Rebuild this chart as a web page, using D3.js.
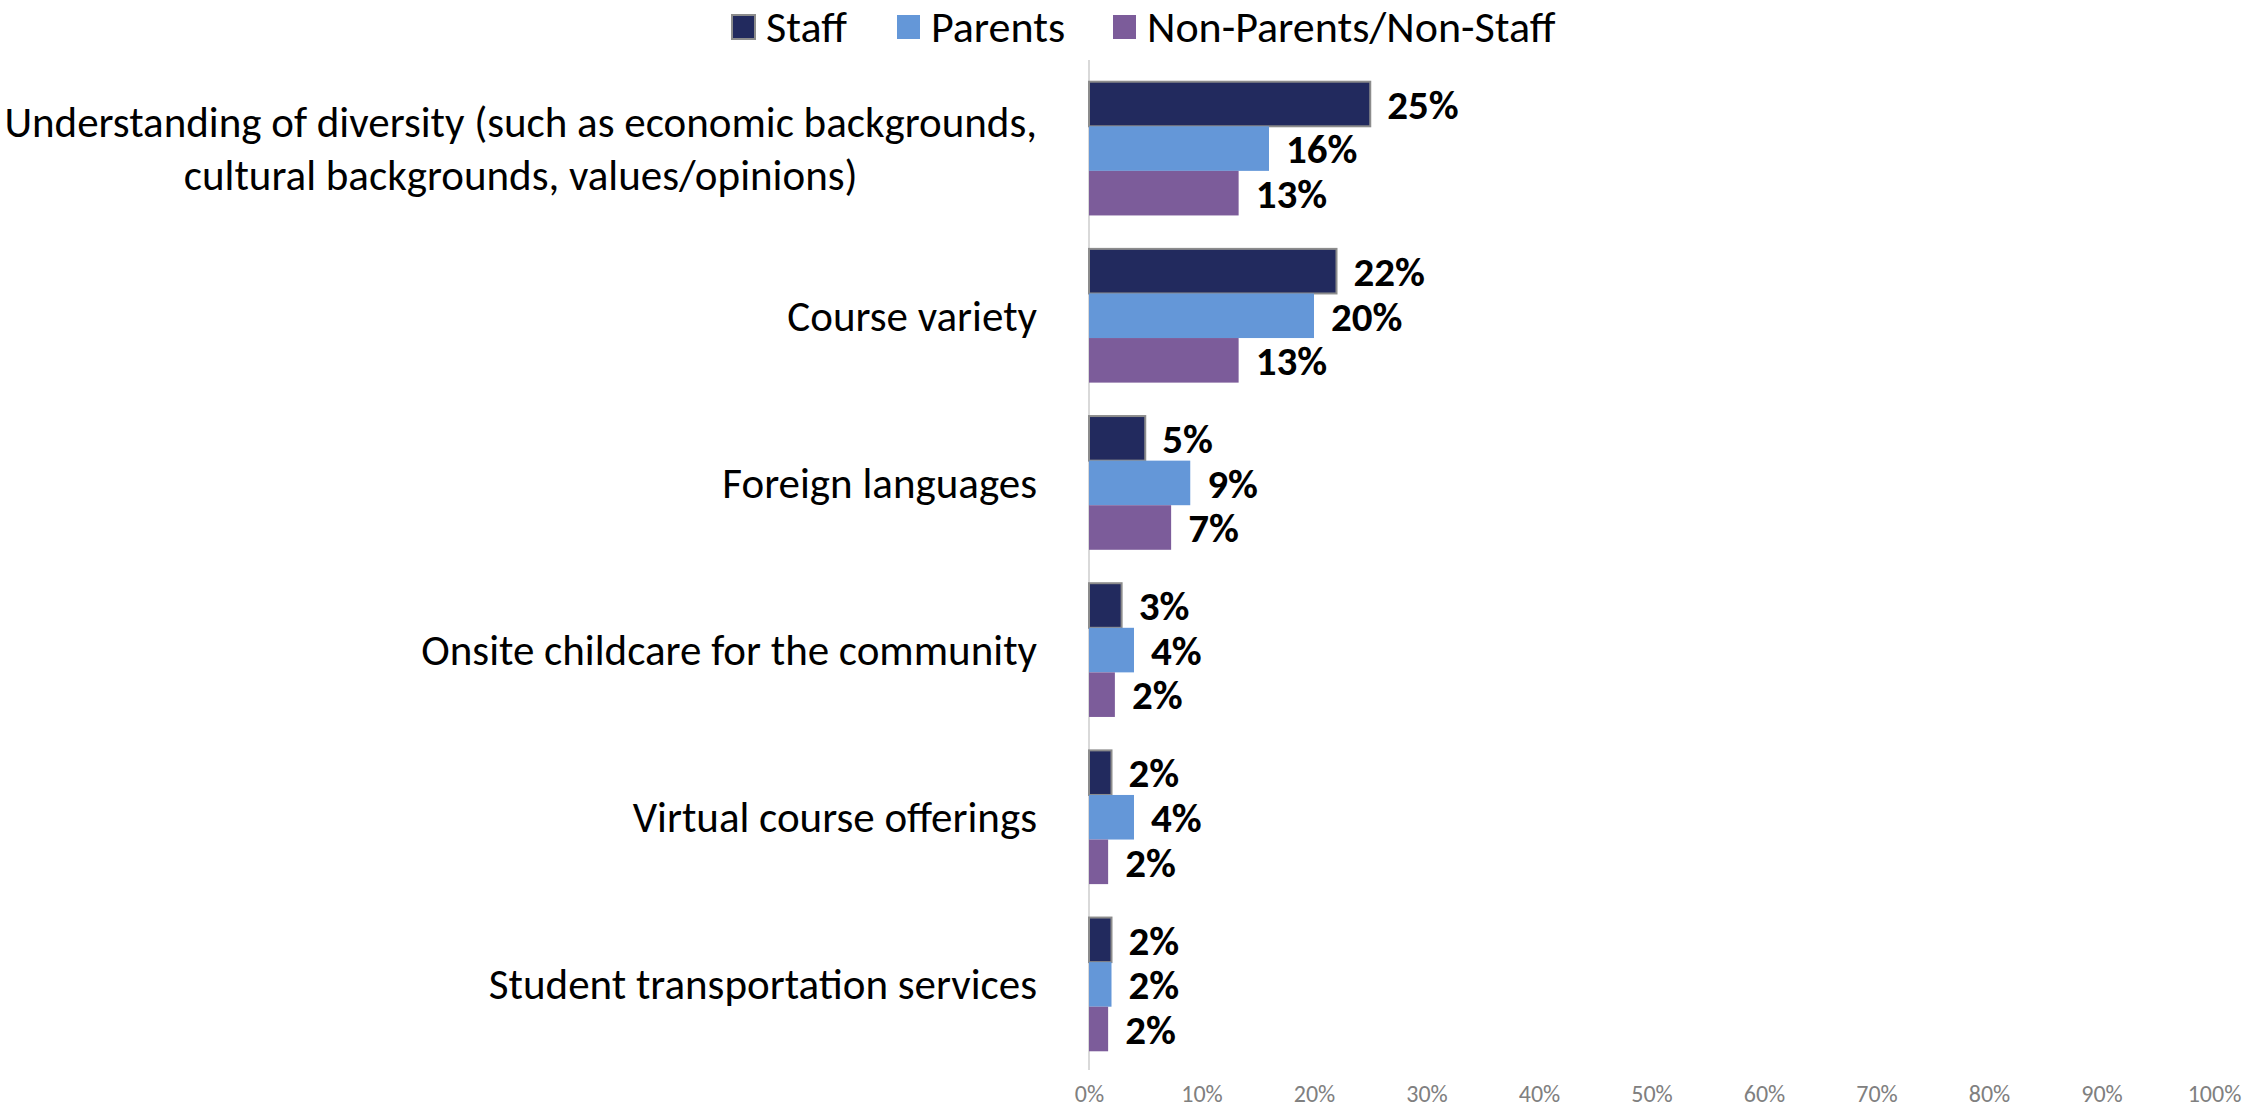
<!DOCTYPE html>
<html>
  <head>
    <script src="https://d3js.org/d3.v7.min.js"></script>
    <style>
      body { margin: 0; background: #fff; }
      text { font-family: Carlito, "Liberation Sans Narrow", "Open Sans", sans-serif; }
    </style>
  </head>
  <body>
  <script>
  var width = 2259, height = 1108;

  // data
  var categories = [
    ["Understanding of diversity (such as economic backgrounds,", "cultural backgrounds, values/opinions)"],
    ["Course variety"],
    ["Foreign languages"],
    ["Onsite childcare for the community"],
    ["Virtual course offerings"],
    ["Student transportation services"]
  ];
  var seriesNames = ["Staff", "Parents", "Non-Parents/Non-Staff"];
  var staff = [25, 22, 5, 2.9, 2, 2];
  var parents = [16, 20, 9, 4, 4, 2];
  var nonParents = [13.3, 13.3, 7.3, 2.3, 1.7, 1.7];
  var xTicks = [0, 10, 20, 30, 40, 50, 60, 70, 80, 90, 100];

  var colors = ["#222a5e", "#6497d8", "#7c5c9a"];
  var seriesValues = [staff, parents, nonParents];

  var svg = d3.select("body").append("svg")
      .attr("width", width)
      .attr("height", height);

  var x = d3.scaleLinear().domain([0, 100]).range([1089, 2214]);
  var y = d3.scaleBand().domain(d3.range(categories.length))
      .range([65, 1068]).paddingInner(0.2).paddingOuter(0.1);
  var ySub = d3.scaleBand().domain(d3.range(seriesNames.length))
      .range([0, y.bandwidth()]);

  // vertical axis line
  svg.append("line")
      .attr("x1", x(0)).attr("x2", x(0))
      .attr("y1", 60).attr("y2", 1070)
      .attr("stroke", "#d9d9d9").attr("stroke-width", 2);

  // bars
  var groups = svg.selectAll(".group")
    .data(categories)
    .enter().append("g")
      .attr("class", "group")
      .attr("transform", function(d, i) { return "translate(0," + y(i) + ")"; });

  groups.each(function(cat, ci) {
    var g = d3.select(this);
    seriesValues.forEach(function(vals, si) {
      var v = vals[ci];
      g.append("rect")
        .attr("x", x(0))
        .attr("y", ySub(si))
        .attr("width", x(v) - x(0))
        .attr("height", ySub.bandwidth())
        .attr("fill", colors[si])
        .attr("stroke", si === 0 ? "#8c8c8c" : "none")
        .attr("stroke-width", si === 0 ? 2 : 0);
      g.append("text")
        .attr("x", x(v) + 17)
        .attr("y", ySub(si) + ySub.bandwidth() / 2)
        .attr("dy", "0.36em")
        .attr("font-size", 41)
        .attr("font-weight", "bold")
        .attr("fill", "#000")
        .text(Math.round(v) + "%");
    });
    // category label, lines centred on each other, block right-aligned
    var lh = 53;
    var cy = y.bandwidth() / 2;
    var t = g.append("text")
      .attr("text-anchor", "middle")
      .attr("font-size", 43)
      .attr("fill", "#000");
    var spans = cat.map(function(line, li) {
      return t.append("tspan")
        .attr("y", cy + (li - (cat.length - 1) / 2) * lh)
        .attr("dy", "0.35em")
        .text(line);
    });
    var maxW = d3.max(spans, function(s) { return s.node().getComputedTextLength(); });
    spans.forEach(function(s) { s.attr("x", 1037 - maxW / 2); });
  });

  // x axis
  var xAxis = svg.append("g")
      .attr("transform", "translate(0,1082)")
      .call(d3.axisBottom(x).tickValues(xTicks).tickSize(0).tickFormat(function(d) { return d + "%"; }));
  xAxis.select(".domain").remove();
  xAxis.selectAll("text")
      .attr("font-size", 24)
      .attr("fill", "#808080")
      .style("font-family", "Carlito, 'Liberation Sans Narrow', 'Open Sans', sans-serif");

  // legend
  var legendX = [732, 897, 1113];
  var legend = svg.selectAll(".legend")
    .data(seriesNames)
    .enter().append("g")
      .attr("class", "legend")
      .attr("transform", function(d, i) { return "translate(" + legendX[i] + ",27)"; });
  legend.append("rect")
      .attr("x", 0).attr("y", -12)
      .attr("width", 23).attr("height", 24)
      .attr("fill", function(d, i) { return colors[i]; })
      .attr("stroke", function(d, i) { return i === 0 ? "#8c8c8c" : "none"; })
      .attr("stroke-width", 2);
  legend.append("text")
      .attr("x", 34)
      .attr("dy", "0.35em")
      .attr("font-size", 44)
      .attr("fill", "#000")
      .text(function(d) { return d; });
  </script>
  </body>
</html>
